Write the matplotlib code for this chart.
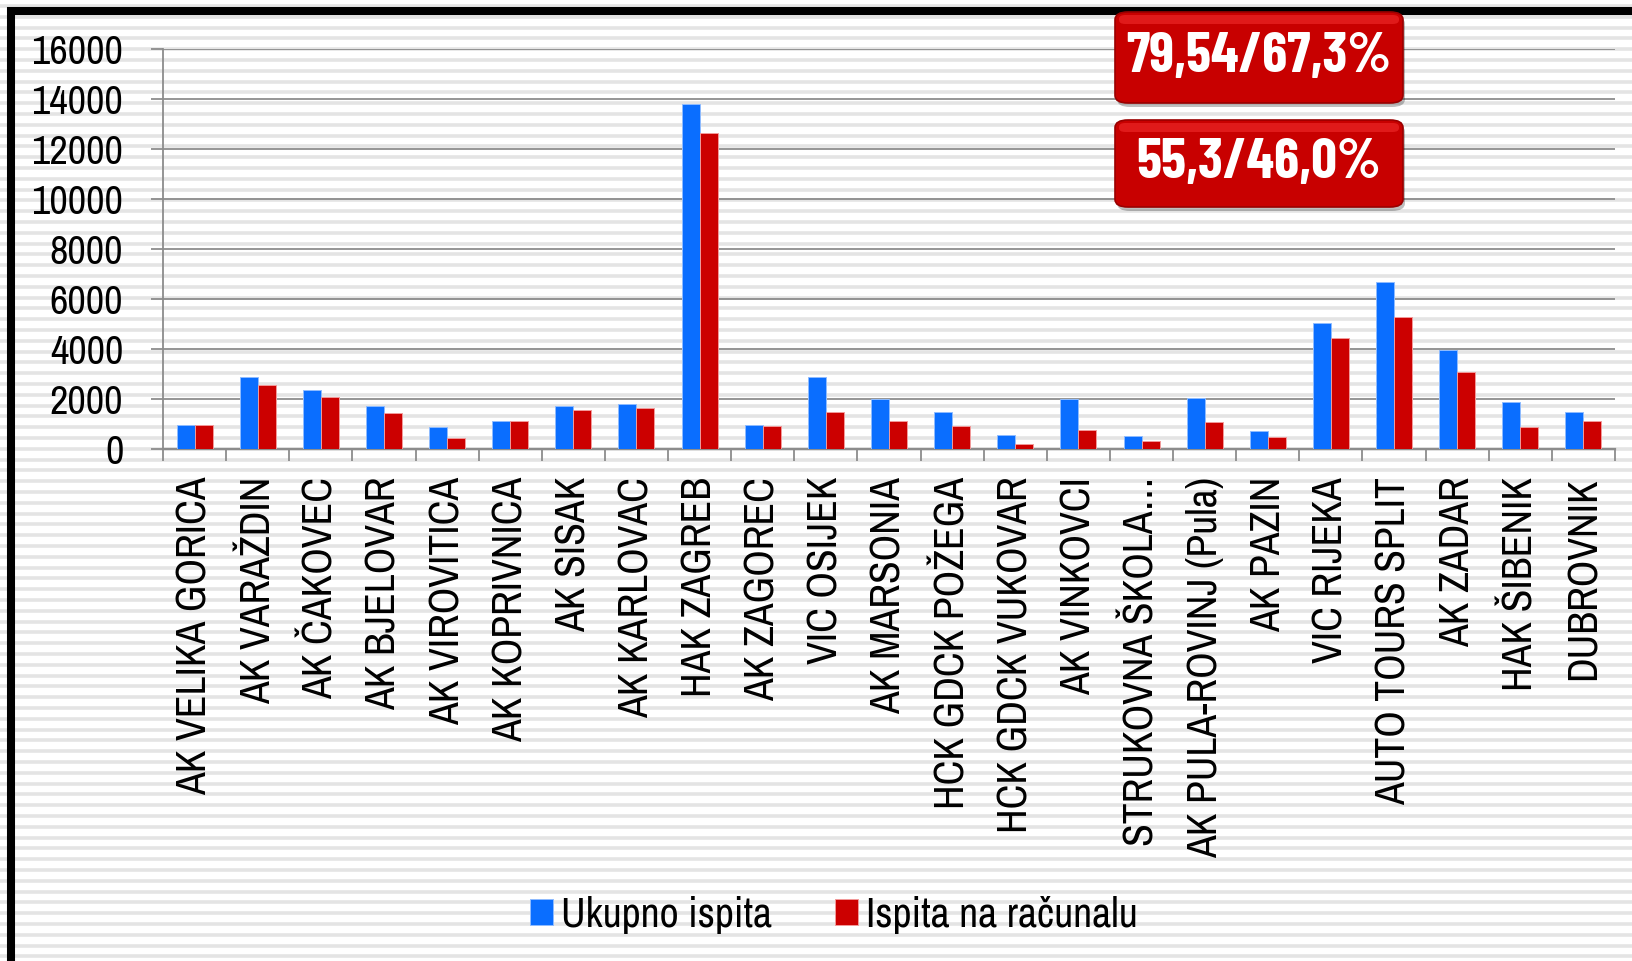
import numpy as np
import matplotlib
matplotlib.use('Agg')
import matplotlib.pyplot as plt
from matplotlib.patches import FancyBboxPatch, Rectangle

# data
categories = ['AK VELIKA GORICA', 'AK VARAŽDIN', 'AK ČAKOVEC', 'AK BJELOVAR', 'AK VIROVITICA',
              'AK KOPRIVNICA', 'AK SISAK', 'AK KARLOVAC', 'HAK ZAGREB', 'AK ZAGOREC',
              'VIC OSIJEK', 'AK MARSONIA', 'HCK GDCK POŽEGA', 'HCK GDCK VUKOVAR', 'AK VINKOVCI',
              'STRUKOVNA ŠKOLA…', 'AK PULA-ROVINJ (Pula)', 'AK PAZIN', 'VIC RIJEKA',
              'AUTO TOURS SPLIT', 'AK ZADAR', 'HAK ŠIBENIK', 'DUBROVNIK']
ukupno = [950, 2880, 2350, 1730, 900, 1130, 1730, 1810, 13790, 950, 2870, 2010, 1490,
          570, 1990, 520, 2040, 710, 5040, 6670, 3950, 1880, 1480]
racunalo = [950, 2550, 2090, 1450, 450, 1130, 1570, 1640, 12640, 930, 1490, 1110, 920,
            210, 770, 330, 1070, 480, 4430, 5290, 3070, 890, 1120]
yticks = [0, 2000, 4000, 6000, 8000, 10000, 12000, 14000, 16000]
legend_labels = ['Ukupno ispita', 'Ispita na računalu']
box_texts = ['79,54/67,3%', '55,3/46,0%']

BLUE = '#0a6eff'
RED = '#cc0000'
GRID = '#8c8c8c'
plt.rcParams['font.family'] = ['Archivo Narrow', 'Liberation Sans', 'DejaVu Sans']
BOX_FONT = ['Barlow Condensed', 'Archivo Narrow', 'Liberation Sans']

W, H = 1632, 961
fig = plt.figure(figsize=(W / 100, H / 100), dpi=100)
fig.patch.set_facecolor('white')

# striped background over the whole figure
bg = fig.add_axes([0, 0, 1, 1], zorder=-10)
bg.set_xlim(0, W)
bg.set_ylim(H, 0)
bg.axis('off')
for yy in np.arange(5.9, H, 10.8):
    bg.axhline(yy, color='#e4e4e4', lw=2.6)

# black frame (right and bottom run off the picture)
fig.patches.append(Rectangle((11 / W, -3 / H), 1.02, 1 - 8 / H, transform=fig.transFigure,
                             fill=False, edgecolor='black', lw=5.8, zorder=5))

ax = fig.add_axes([163 / W, 1 - 449 / H, (1615 - 163) / W, 400 / H])
ax.patch.set_alpha(0)

x = np.arange(len(categories))
bw = 0.285
ax.bar(x - bw / 2, ukupno, bw, color=BLUE, edgecolor='#8fbcff', lw=0.7, label=legend_labels[0], zorder=3)
ax.bar(x + bw / 2, racunalo, bw, color=RED, edgecolor='#f29a9a', lw=0.7, label=legend_labels[1], zorder=3)

ax.set_xlim(-0.5, len(categories) - 0.5)
ax.set_ylim(0, 16000)
ax.set_yticks(yticks)
ax.set_yticklabels([str(v) for v in yticks])
ax.yaxis.grid(True, color=GRID, lw=1.3, zorder=1)
ax.set_axisbelow(True)

ax.set_xticks(x)
ax.set_xticklabels(categories, rotation=90)
ax.set_xticks(np.arange(-0.5, len(categories), 1), minor=True)
ax.tick_params(axis='x', which='major', length=0, pad=20, labelsize=30)
ax.tick_params(axis='x', which='minor', length=8.6, width=1.3, color=GRID)
ax.tick_params(axis='y', length=8.6, width=1.3, color=GRID, pad=20, labelsize=29)

for s in ['top', 'right']:
    ax.spines[s].set_visible(False)
ax.spines['left'].set_color(GRID)
ax.spines['left'].set_linewidth(1.3)
ax.spines['bottom'].set_color(GRID)
ax.spines['bottom'].set_linewidth(1.6)

fig.legend(loc='center', bbox_to_anchor=(0.511, 0.048), ncol=2, frameon=False, fontsize=30,
           handlelength=0.55, handleheight=0.6, handletextpad=0.2, columnspacing=1.5)

# red labels in the top right
boxes = [(1115, 12, 288, 91), (1115, 120, 288, 87)]
for (bx, by, bwid, bht), txt in zip(boxes, box_texts):
    x0, y0 = bx / W, 1 - (by + bht) / H
    ww, hh = bwid / W, bht / H
    shadow = FancyBboxPatch((x0 + 2 / W, y0 - 4 / H), ww, hh, boxstyle='round,pad=0,rounding_size=0.008',
                            transform=fig.transFigure, facecolor='#000000', alpha=0.25, lw=0, zorder=8)
    box = FancyBboxPatch((x0, y0), ww, hh, boxstyle='round,pad=0,rounding_size=0.008',
                         transform=fig.transFigure, facecolor='#c80000', edgecolor='#9a0000', lw=1.2, zorder=9)
    hl = FancyBboxPatch((x0 + 4 / W, y0 + hh - 12 / H), ww - 8 / W, 9 / H, boxstyle='round,pad=0,rounding_size=0.004',
                        transform=fig.transFigure, facecolor='#ff3a3a', alpha=0.45, lw=0, zorder=10)
    fig.patches.extend([shadow, box, hl])
    fig.text(x0 + ww / 2, y0 + hh / 2, txt, ha='center', va='center', color='white',
             fontsize=41, fontweight='bold', family=BOX_FONT, zorder=11)

fig.savefig('out.png', dpi=100)
